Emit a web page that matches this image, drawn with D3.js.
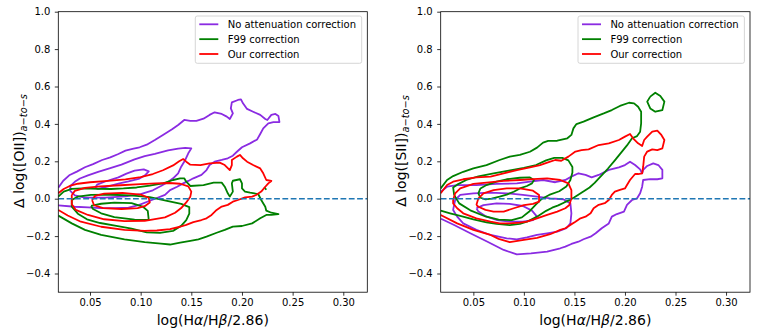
<!DOCTYPE html>
<html>
<head>
<meta charset="utf-8">
<script src="https://cdn.jsdelivr.net/npm/d3@7"></script>
<style>
  body { margin: 0; background: #fff; }
  svg text { font-family: "DejaVu Sans", sans-serif; }
</style>
</head>
<body>
<svg id="chart" width="773" height="335"></svg>
<script>
// axis limits and ticks
var oiiXLim = [0.0187, 0.3237];
var siiXLim = [0.0177, 0.3237];
var yLim = [-0.5, 1.0];
var xTicks = [0.05, 0.10, 0.15, 0.20, 0.25, 0.30];
var yTicks = [-0.4, -0.2, 0.0, 0.2, 0.4, 0.6, 0.8, 1.0];
var seriesNames = ["No attenuation correction", "F99 correction", "Our correction"];

// ---------- left panel, [OII] : contour lines ----------
var oiiNoneOuter = [[0.0187,0.059],[0.0236,0.096],[0.030,0.127],[0.037,0.145],[0.045,0.168],[0.053,0.185],[0.062,0.207],[0.070,0.221],[0.078,0.239],[0.085,0.257],[0.093,0.268],[0.099,0.275],[0.106,0.289],[0.114,0.314],[0.122,0.341],[0.131,0.371],[0.137,0.394],[0.143,0.421],[0.149,0.416],[0.155,0.416],[0.162,0.428],[0.168,0.448],[0.173,0.462],[0.180,0.453],[0.185,0.439],[0.188,0.426],[0.191,0.456],[0.189,0.483],[0.190,0.515],[0.196,0.528],[0.199,0.531],[0.201,0.510],[0.205,0.480],[0.211,0.465],[0.218,0.448],[0.223,0.426],[0.225,0.421],[0.229,0.448],[0.233,0.453],[0.236,0.442],[0.237,0.410],[0.231,0.410],[0.226,0.403],[0.221,0.376],[0.218,0.346],[0.215,0.317],[0.208,0.296],[0.200,0.275],[0.195,0.251],[0.191,0.230],[0.186,0.216],[0.180,0.207],[0.173,0.198],[0.168,0.180],[0.165,0.153],[0.160,0.127],[0.152,0.109],[0.147,0.095],[0.142,0.082],[0.136,0.064],[0.129,0.046],[0.124,0.020],[0.111,-0.007],[0.098,-0.034],[0.088,-0.048],[0.075,-0.050],[0.060,-0.050],[0.048,-0.046],[0.035,-0.043],[0.0187,-0.036]];
var oiiNoneMid = [[0.030,0.045],[0.031,0.070],[0.035,0.090],[0.040,0.108],[0.048,0.125],[0.058,0.143],[0.070,0.163],[0.081,0.182],[0.094,0.210],[0.104,0.228],[0.114,0.240],[0.127,0.258],[0.137,0.268],[0.144,0.272],[0.150,0.269],[0.147,0.243],[0.144,0.207],[0.140,0.171],[0.137,0.136],[0.132,0.109],[0.127,0.090],[0.120,0.068],[0.112,0.045],[0.100,0.025],[0.085,0.012],[0.065,0.006],[0.045,0.006],[0.035,0.018],[0.030,0.045]];
var oiiNoneIn = [[0.055,0.058],[0.057,0.075],[0.065,0.092],[0.078,0.114],[0.086,0.134],[0.094,0.150],[0.103,0.157],[0.108,0.146],[0.104,0.124],[0.098,0.106],[0.088,0.092],[0.078,0.080],[0.068,0.066],[0.058,0.053],[0.055,0.058]];

var oiiF99Outer = [[0.0187,0.011],[0.024,0.038],[0.032,0.052],[0.043,0.055],[0.058,0.053],[0.071,0.052],[0.083,0.055],[0.096,0.060],[0.109,0.070],[0.122,0.082],[0.132,0.100],[0.139,0.109],[0.143,0.109],[0.145,0.091],[0.149,0.068],[0.162,0.073],[0.172,0.086],[0.180,0.086],[0.183,0.064],[0.186,0.029],[0.188,0.011],[0.191,0.038],[0.190,0.082],[0.191,0.096],[0.198,0.104],[0.200,0.082],[0.200,0.055],[0.203,0.038],[0.208,0.032],[0.216,0.025],[0.219,-0.007],[0.223,-0.043],[0.224,-0.064],[0.229,-0.075],[0.236,-0.082],[0.229,-0.087],[0.224,-0.087],[0.218,-0.105],[0.210,-0.132],[0.200,-0.146],[0.191,-0.149],[0.183,-0.167],[0.175,-0.182],[0.165,-0.203],[0.157,-0.217],[0.149,-0.225],[0.139,-0.235],[0.129,-0.245],[0.120,-0.240],[0.104,-0.232],[0.084,-0.217],[0.061,-0.194],[0.045,-0.167],[0.032,-0.132],[0.0187,-0.090]];
var oiiF99Stub = [[0.222,0.062],[0.224,0.048]];
var oiiF99Mid = [[0.032,-0.007],[0.038,0.011],[0.051,0.020],[0.070,0.021],[0.090,0.018],[0.109,0.008],[0.126,-0.012],[0.140,-0.028],[0.148,-0.045],[0.148,-0.080],[0.145,-0.115],[0.140,-0.145],[0.132,-0.172],[0.119,-0.183],[0.106,-0.180],[0.091,-0.160],[0.076,-0.145],[0.060,-0.130],[0.047,-0.110],[0.038,-0.080],[0.032,-0.043],[0.032,-0.007]];
var oiiF99In = [[0.051,-0.039],[0.061,-0.027],[0.074,-0.021],[0.091,-0.024],[0.102,-0.042],[0.107,-0.065],[0.108,-0.114],[0.094,-0.112],[0.074,-0.098],[0.061,-0.078],[0.053,-0.055],[0.051,-0.039]];

var oiiOursOuter = [[0.0187,0.029],[0.024,0.052],[0.030,0.068],[0.038,0.080],[0.050,0.088],[0.068,0.095],[0.085,0.103],[0.100,0.115],[0.112,0.132],[0.122,0.152],[0.132,0.178],[0.138,0.200],[0.142,0.212],[0.145,0.198],[0.149,0.182],[0.159,0.180],[0.168,0.189],[0.178,0.193],[0.183,0.180],[0.188,0.153],[0.190,0.180],[0.190,0.207],[0.195,0.225],[0.198,0.234],[0.201,0.216],[0.205,0.198],[0.211,0.180],[0.218,0.162],[0.221,0.136],[0.224,0.100],[0.229,0.095],[0.226,0.082],[0.223,0.064],[0.219,0.038],[0.214,0.020],[0.210,0.011],[0.203,0.007],[0.196,-0.007],[0.191,-0.016],[0.186,-0.033],[0.180,-0.042],[0.175,-0.060],[0.170,-0.087],[0.165,-0.105],[0.160,-0.114],[0.152,-0.125],[0.145,-0.140],[0.139,-0.150],[0.129,-0.163],[0.116,-0.170],[0.104,-0.172],[0.084,-0.167],[0.061,-0.150],[0.041,-0.123],[0.028,-0.090],[0.0187,-0.060]];
var oiiOursMid = [[0.032,0.020],[0.035,0.042],[0.045,0.058],[0.060,0.066],[0.080,0.072],[0.100,0.078],[0.115,0.082],[0.128,0.084],[0.139,0.080],[0.147,0.066],[0.150,0.038],[0.149,0.011],[0.145,-0.020],[0.140,-0.050],[0.134,-0.075],[0.124,-0.100],[0.104,-0.118],[0.084,-0.120],[0.064,-0.110],[0.048,-0.087],[0.036,-0.060],[0.032,-0.030],[0.032,0.020]];
var oiiOursIn = [[0.052,-0.007],[0.055,0.015],[0.064,0.027],[0.082,0.031],[0.100,0.022],[0.108,0.005],[0.109,-0.020],[0.104,-0.040],[0.097,-0.050],[0.081,-0.055],[0.063,-0.050],[0.054,-0.035],[0.052,-0.007]];

// ---------- right panel, [SII] ----------
var siiNoneOuter = [[0.018,0.038],[0.024,0.064],[0.034,0.073],[0.053,0.073],[0.073,0.079],[0.093,0.082],[0.106,0.091],[0.119,0.100],[0.131,0.088],[0.141,0.100],[0.147,0.118],[0.154,0.136],[0.161,0.127],[0.167,0.114],[0.174,0.127],[0.184,0.154],[0.194,0.168],[0.200,0.180],[0.205,0.198],[0.210,0.180],[0.215,0.157],[0.217,0.136],[0.218,0.154],[0.222,0.175],[0.228,0.189],[0.233,0.180],[0.237,0.154],[0.237,0.109],[0.232,0.104],[0.225,0.105],[0.218,0.100],[0.217,0.064],[0.215,0.029],[0.212,0.002],[0.207,-0.007],[0.202,-0.033],[0.199,-0.069],[0.192,-0.082],[0.187,-0.096],[0.184,-0.132],[0.177,-0.158],[0.171,-0.185],[0.166,-0.203],[0.159,-0.217],[0.154,-0.230],[0.147,-0.242],[0.141,-0.256],[0.136,-0.265],[0.123,-0.283],[0.107,-0.292],[0.093,-0.298],[0.080,-0.274],[0.064,-0.230],[0.047,-0.185],[0.031,-0.141],[0.018,-0.107]];
var siiNoneMid = [[0.032,-0.007],[0.037,0.020],[0.050,0.029],[0.067,0.032],[0.083,0.029],[0.099,0.020],[0.113,0.011],[0.126,0.002],[0.139,-0.003],[0.146,-0.025],[0.147,-0.078],[0.146,-0.132],[0.142,-0.158],[0.133,-0.176],[0.123,-0.185],[0.113,-0.194],[0.103,-0.207],[0.093,-0.217],[0.083,-0.212],[0.067,-0.194],[0.053,-0.167],[0.040,-0.132],[0.034,-0.096],[0.030,-0.060],[0.032,-0.007]];
var siiNoneIn = [[0.053,-0.051],[0.060,-0.034],[0.073,-0.025],[0.086,-0.028],[0.099,-0.039],[0.108,-0.064],[0.113,-0.096],[0.109,-0.114],[0.099,-0.123],[0.086,-0.123],[0.073,-0.114],[0.063,-0.096],[0.055,-0.069],[0.053,-0.051]];

var siiF99Outer = [[0.0177,0.055],[0.024,0.100],[0.030,0.121],[0.040,0.144],[0.050,0.162],[0.063,0.180],[0.076,0.207],[0.086,0.225],[0.096,0.234],[0.106,0.251],[0.113,0.273],[0.119,0.300],[0.124,0.309],[0.133,0.310],[0.143,0.323],[0.147,0.341],[0.149,0.376],[0.152,0.399],[0.159,0.412],[0.169,0.435],[0.179,0.456],[0.187,0.474],[0.195,0.496],[0.204,0.513],[0.209,0.510],[0.213,0.492],[0.216,0.465],[0.216,0.403],[0.215,0.358],[0.212,0.335],[0.207,0.323],[0.202,0.285],[0.196,0.245],[0.190,0.205],[0.183,0.160],[0.176,0.120],[0.170,0.085],[0.165,0.060],[0.160,0.042],[0.155,0.025],[0.150,0.008],[0.145,-0.008],[0.140,-0.020],[0.134,-0.036],[0.128,-0.048],[0.122,-0.065],[0.113,-0.096],[0.103,-0.123],[0.096,-0.135],[0.086,-0.141],[0.073,-0.135],[0.063,-0.126],[0.050,-0.110],[0.037,-0.092],[0.027,-0.078],[0.0177,-0.064]];
var siiF99Loop = [[0.225,0.546],[0.230,0.567],[0.235,0.549],[0.239,0.519],[0.237,0.474],[0.230,0.465],[0.225,0.483],[0.222,0.519],[0.225,0.546]];
var siiF99Mid = [[0.031,0.020],[0.030,0.060],[0.034,0.075],[0.043,0.100],[0.055,0.120],[0.070,0.135],[0.085,0.150],[0.100,0.165],[0.112,0.180],[0.122,0.205],[0.130,0.218],[0.138,0.218],[0.144,0.205],[0.148,0.170],[0.148,0.140],[0.146,0.100],[0.142,0.065],[0.135,0.040],[0.125,0.020],[0.118,0.000],[0.112,-0.030],[0.105,-0.070],[0.098,-0.100],[0.088,-0.115],[0.075,-0.112],[0.062,-0.095],[0.047,-0.062],[0.036,-0.025],[0.031,0.020]];
var siiF99In = [[0.057,0.055],[0.063,0.073],[0.073,0.091],[0.083,0.104],[0.096,0.112],[0.106,0.114],[0.110,0.100],[0.108,0.082],[0.103,0.068],[0.096,0.055],[0.090,0.037],[0.083,0.022],[0.076,0.011],[0.068,0.000],[0.062,-0.004],[0.057,0.005],[0.055,0.029],[0.057,0.055]];

var siiOursOuter = [[0.0177,0.029],[0.024,0.073],[0.030,0.091],[0.040,0.104],[0.053,0.114],[0.067,0.118],[0.080,0.136],[0.093,0.153],[0.106,0.168],[0.116,0.180],[0.126,0.198],[0.131,0.207],[0.137,0.203],[0.144,0.225],[0.151,0.252],[0.157,0.260],[0.164,0.264],[0.174,0.287],[0.184,0.296],[0.194,0.314],[0.200,0.332],[0.205,0.346],[0.208,0.323],[0.213,0.296],[0.217,0.282],[0.219,0.314],[0.222,0.332],[0.227,0.359],[0.232,0.364],[0.236,0.341],[0.239,0.314],[0.237,0.269],[0.232,0.260],[0.227,0.264],[0.222,0.252],[0.219,0.225],[0.218,0.171],[0.217,0.136],[0.213,0.132],[0.210,0.132],[0.205,0.100],[0.202,0.073],[0.200,0.055],[0.195,0.047],[0.190,0.038],[0.187,0.020],[0.184,-0.007],[0.180,-0.024],[0.174,-0.033],[0.169,-0.051],[0.166,-0.078],[0.161,-0.096],[0.156,-0.105],[0.151,-0.123],[0.146,-0.140],[0.141,-0.158],[0.136,-0.167],[0.126,-0.190],[0.113,-0.210],[0.100,-0.220],[0.086,-0.232],[0.075,-0.215],[0.067,-0.194],[0.050,-0.167],[0.034,-0.132],[0.0177,-0.087]];
var siiOursMid = [[0.030,-0.007],[0.032,0.029],[0.037,0.055],[0.050,0.079],[0.063,0.086],[0.080,0.095],[0.096,0.100],[0.109,0.105],[0.123,0.109],[0.136,0.100],[0.144,0.082],[0.147,0.046],[0.147,0.002],[0.145,-0.034],[0.141,-0.051],[0.133,-0.069],[0.123,-0.087],[0.113,-0.105],[0.103,-0.123],[0.096,-0.128],[0.086,-0.132],[0.076,-0.132],[0.067,-0.123],[0.053,-0.105],[0.040,-0.078],[0.034,-0.051],[0.030,-0.025],[0.030,-0.007]];
var siiOursIn = [[0.053,-0.034],[0.055,0.002],[0.060,0.029],[0.070,0.046],[0.083,0.055],[0.096,0.055],[0.109,0.043],[0.115,0.020],[0.115,-0.016],[0.109,-0.028],[0.100,-0.034],[0.090,-0.051],[0.080,-0.069],[0.070,-0.069],[0.062,-0.060],[0.055,-0.043],[0.053,-0.034]];

// ---------- drawing ----------
var colors = ["#8a2be2", "#008000", "#ff0000"];
var svg = d3.select("#chart");
var plotTop = 11.7, plotBottom = 292.2;

var panels = [
  { id: "oii", left: 58.3, right: 367.3, xLim: oiiXLim, ion: "[OII]",
    lines: [[oiiNoneOuter, oiiNoneMid, oiiNoneIn], [oiiF99Outer, oiiF99Mid, oiiF99In, oiiF99Stub], [oiiOursOuter, oiiOursMid, oiiOursIn]] },
  { id: "sii", left: 440.7, right: 750, xLim: siiXLim, ion: "[SII]",
    lines: [[siiNoneOuter, siiNoneMid, siiNoneIn], [siiF99Outer, siiF99Mid, siiF99In, siiF99Loop], [siiOursOuter, siiOursMid, siiOursIn]] }
];

panels.forEach(function(p) {
  var x = d3.scaleLinear().domain(p.xLim).range([p.left, p.right]);
  var y = d3.scaleLinear().domain(yLim).range([plotBottom, plotTop]);

  svg.append("clipPath").attr("id", "clip-" + p.id)
    .append("rect")
    .attr("x", p.left).attr("y", plotTop)
    .attr("width", p.right - p.left).attr("height", plotBottom - plotTop);

  var plot = svg.append("g").attr("clip-path", "url(#clip-" + p.id + ")");
  var line = d3.line().x(function(d) { return x(d[0]); }).y(function(d) { return y(d[1]); });

  p.lines.forEach(function(group, i) {
    plot.selectAll(null).data(group).enter().append("path")
      .attr("d", line)
      .attr("fill", "none")
      .attr("stroke", colors[i])
      .attr("stroke-width", 1.8)
      .attr("stroke-linejoin", "round");
  });

  // y = 0 reference
  plot.append("line")
    .attr("x1", p.left).attr("x2", p.right)
    .attr("y1", y(0)).attr("y2", y(0))
    .attr("stroke", "#1f77b4")
    .attr("stroke-width", 1.6)
    .attr("stroke-dasharray", "5.8,2.5");

  // axes
  var xAxis = svg.append("g")
    .attr("transform", "translate(0," + plotBottom + ")")
    .call(d3.axisBottom(x).tickValues(xTicks).tickSize(3.5).tickPadding(3.5).tickSizeOuter(0).tickFormat(d3.format(".2f")));
  var yAxis = svg.append("g")
    .attr("transform", "translate(" + p.left + ",0)")
    .call(d3.axisLeft(y).tickValues(yTicks).tickSize(3.5).tickPadding(4.5).tickSizeOuter(0).tickFormat(d3.format(".1f")));
  [xAxis, yAxis].forEach(function(a) {
    a.select(".domain").remove();
    a.selectAll("line").attr("stroke", "#000").attr("stroke-width", 0.8);
    a.selectAll("text").attr("font-size", 10).attr("fill", "#000")
      .style("font-family", "'DejaVu Sans', sans-serif");
  });

  svg.append("rect")
    .attr("x", p.left).attr("y", plotTop)
    .attr("width", p.right - p.left).attr("height", plotBottom - plotTop)
    .attr("fill", "none").attr("stroke", "#000").attr("stroke-width", 0.8);

  // x label
  var xl = svg.append("text")
    .attr("x", (p.left + p.right) / 2).attr("y", 325)
    .attr("text-anchor", "middle").attr("font-size", 14);
  xl.append("tspan").text("log(H");
  xl.append("tspan").attr("font-style", "italic").text("α");
  xl.append("tspan").text("/H");
  xl.append("tspan").attr("font-style", "italic").text("β");
  xl.append("tspan").text("/2.86)");

  // y label
  var yl = svg.append("text")
    .attr("transform", "translate(" + (p.left - 34.3) + "," + ((plotTop + plotBottom) / 2 - 1) + ") rotate(-90)")
    .attr("text-anchor", "middle").attr("font-size", 14);
  yl.append("tspan").text("Δ log(" + p.ion + ")");
  yl.append("tspan").attr("font-size", 9.8).attr("font-style", "italic").attr("dy", 3).text("a−to−s");

  // legend
  var lg = svg.append("g").attr("transform", "translate(" + (p.right - 172) + ",16)");
  lg.append("rect")
    .attr("width", 166.4).attr("height", 47.3).attr("rx", 2)
    .attr("fill", "#fff").attr("fill-opacity", 0.8)
    .attr("stroke", "#cccccc").attr("stroke-width", 0.8);
  seriesNames.forEach(function(name, i) {
    var ry = 8.3 + i * 14.85;
    lg.append("line")
      .attr("x1", 4).attr("x2", 23).attr("y1", ry).attr("y2", ry)
      .attr("stroke", colors[i]).attr("stroke-width", 1.8);
    lg.append("text")
      .attr("x", 32.4).attr("y", ry + 3.6)
      .attr("font-size", 10).text(name);
  });
});
</script>
</body>
</html>
